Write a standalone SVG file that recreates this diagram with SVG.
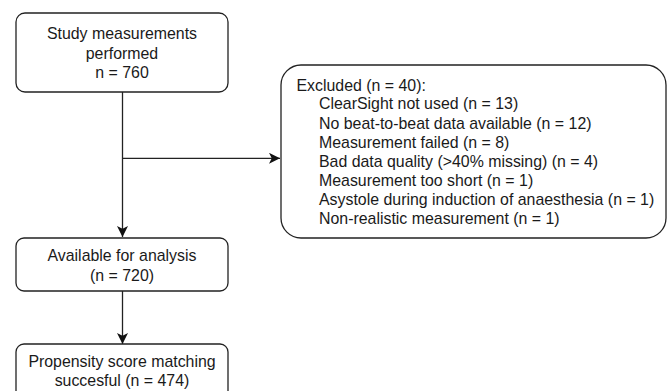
<svg xmlns="http://www.w3.org/2000/svg" width="668" height="391" viewBox="0 0 668 391">
<style>
.box{fill:#fff;stroke:#222;stroke-width:1.3}
.t{font-family:"Liberation Sans",Arial,sans-serif;font-size:15.9px;fill:#1a1a1a}
.c{text-anchor:middle}
.ln{fill:none;stroke:#222;stroke-width:1.3}
</style>
<defs>
<marker id="ah" viewBox="0 0 10 10" refX="10" refY="5" markerWidth="11" markerHeight="11" markerUnits="userSpaceOnUse" orient="auto">
<path d="M0,0 L10,5 L0,10 L2.5,5 Z" fill="#111"/>
</marker>
</defs>
<g id="connectors">
<path class="ln" d="M122.5,92 V237" marker-end="url(#ah)"/>
<path class="ln" d="M122.5,158.3 H280" marker-end="url(#ah)"/>
<path class="ln" d="M122.5,291 V344" marker-end="url(#ah)"/>
</g>
<g id="n1">
<rect class="box" x="16" y="13" width="212" height="79" rx="9"/>
<text class="t c" x="122" y="39">Study measurements</text>
<text class="t c" x="122" y="59">performed</text>
<text class="t c" x="122" y="78">n = 760</text>
</g>
<g id="n2">
<rect class="box" x="281" y="65" width="385" height="173" rx="20"/>
<text class="t" x="296.5" y="90.5">Excluded (n = 40):</text>
<text class="t" x="319" y="109">ClearSight not used (n = 13)</text>
<text class="t" x="319" y="128.5">No beat-to-beat data available (n = 12)</text>
<text class="t" x="319" y="147.5">Measurement failed (n = 8)</text>
<text class="t" x="319" y="167">Bad data quality (&gt;40% missing) (n = 4)</text>
<text class="t" x="319" y="186">Measurement too short (n = 1)</text>
<text class="t" x="319" y="204.5">Asystole during induction of anaesthesia (n = 1)</text>
<text class="t" x="319" y="224">Non-realistic measurement (n = 1)</text>
</g>
<g id="n3">
<rect class="box" x="16" y="238" width="212" height="53" rx="8"/>
<text class="t c" x="122" y="260.5">Available for analysis</text>
<text class="t c" x="122" y="280.5">(n  = 720)</text>
</g>
<g id="n4">
<rect class="box" x="16" y="344" width="212" height="60" rx="8"/>
<text class="t c" x="122" y="367">Propensity score matching</text>
<text class="t c" x="122" y="386">succesful (n = 474)</text>
</g>
</svg>
